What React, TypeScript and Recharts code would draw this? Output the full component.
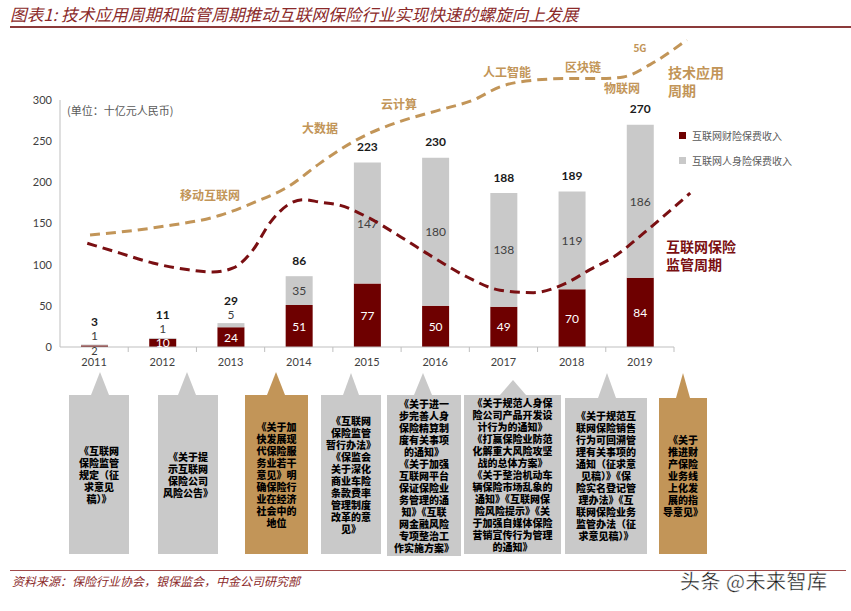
import React from 'react'
import { ComposedChart, Bar, XAxis, YAxis, LabelList, Legend, LineChart, Line } from 'recharts'

document.body.style.margin = '0'

const years = ['2011', '2012', '2013', '2014', '2015', '2016', '2017', '2018', '2019']
const propertyPremium = [2, 10, 24, 51, 77, 50, 49, 70, 84]
const lifePremium = [1, 1, 5, 35, 147, 180, 138, 119, 186]
const totalPremium = [3, 11, 29, 86, 223, 230, 188, 189, 270]
const yTicks = [0, 50, 100, 150, 200, 250, 300]

// dashed cycle curves, x in years, y in the same units as the bars
const techX = [2010.94, 2011.97, 2012.85, 2013.33, 2013.83, 2014.31, 2014.61, 2015.0, 2015.49, 2016.07, 2016.56, 2016.95, 2017.44, 2017.93, 2018.42, 2018.76, 2019.15, 2019.69]
const techY = [136, 146, 160, 175, 194, 223, 240, 258, 274, 288, 300, 316, 324, 326, 326, 328, 343, 373]
const regX = [2010.9, 2011.38, 2011.86, 2012.36, 2012.74, 2013.04, 2013.33, 2013.58, 2013.83, 2014.06, 2014.31, 2014.61, 2015.0, 2015.49, 2015.97, 2016.47, 2016.95, 2017.44, 2017.93, 2018.27, 2018.61, 2019.11, 2019.74]
const regY = [126, 114, 102, 94, 91, 96, 118, 151, 172, 179, 176, 172, 158, 134, 109, 85, 69, 66, 78, 94, 109, 142, 187]

const data = years.map((year, i) => ({
  year,
  property: propertyPremium[i],
  life: lifePremium[i],
  total: totalPremium[i],
}))
const techData = techX.map((x, i) => ({ x, y: techY[i] }))
const regData = regX.map((x, i) => ({ x, y: regY[i] }))

const TAN = '#C29558'
const RED = '#6E0000'
const REG_RED = '#7A0F12'
const GRAY = '#C9C9C9'
const NUM_FONT = 'Lato, "Open Sans", sans-serif'
const BAND_HALF = 614 / 9 / 2
const LEGEND_ORDER = ['property', 'life']

function YearTick({ x, y, payload }: any) {
  return (
    <g>
      <line x1={x + BAND_HALF} x2={x + BAND_HALF} y1={y - 8} y2={y - 3} stroke="#bfbfbf" />
      <text x={x} y={y} dy={11} textAnchor="middle" fontSize={11} fill="#404040" fontFamily={NUM_FONT}>
        {payload.value}
      </text>
    </g>
  )
}

function PropertyLabel({ x, y, width, height, value }: any) {
  const cx = Number(x) + Number(width) / 2
  if (value < 5) {
    return <text x={cx} y={Number(y) + Number(height) + 3} textAnchor="middle" dominantBaseline="central" fontSize={11} fill="#404040" fontFamily={NUM_FONT}>{value}</text>
  }
  return <text x={cx} y={Number(y) + Number(height) / 2} textAnchor="middle" dominantBaseline="central" fontSize={12} fill="#fff" fontFamily={NUM_FONT}>{value}</text>
}

function LifeLabel({ x, y, width, height, value }: any) {
  const cx = Number(x) + Number(width) / 2
  const cy = value < 10 ? Number(y) - 9 : Number(y) + Number(height) / 2
  return <text x={cx} y={cy} textAnchor="middle" dominantBaseline="central" fontSize={12} fill="#404040" fontFamily={NUM_FONT}>{value}</text>
}

function TotalLabel({ x, y, width, index, value }: any) {
  const small = lifePremium[index] < 10
  const cy = Number(y) - (small ? 23 : 16)
  return <text x={Number(x) + Number(width) / 2} y={cy} textAnchor="middle" dominantBaseline="central" fontSize={12} fontWeight={700} fill="#1a1a1a" fontFamily={NUM_FONT}>{value}</text>
}

function LegendBox({ payload }: any) {
  const items = [...(payload || [])].sort((a: any, b: any) => LEGEND_ORDER.indexOf(a.dataKey) - LEGEND_ORDER.indexOf(b.dataKey))
  return (
    <div>
      {items.map((item: any) => (
        <div key={item.value} style={{ display: 'flex', alignItems: 'center', height: 25, fontSize: 10, color: '#595959' }}>
          <span style={{ width: 7, height: 7, background: item.color, marginRight: 6, display: 'inline-block' }} />
          {item.value}
        </div>
      ))}
    </div>
  )
}

function Note({ x, y, text, size = 12, color = TAN, weight = 700 }: any) {
  return (
    <div style={{ position: 'absolute', left: x, top: y, transform: 'translate(-50%, -50%)', fontSize: size, color, fontWeight: weight, whiteSpace: 'nowrap', lineHeight: 1 }}>
      {text}
    </div>
  )
}

const callouts = [
  { left: 69, right: 129, top: 395, bottom: 554, tipX: 100, tipY: 372, half: 9, color: GRAY, lines: ['《互联网', '保险监管', '规定（征', '求意见', '稿）》'] },
  { left: 158, right: 218, top: 395, bottom: 554, tipX: 187, tipY: 372, half: 9, color: GRAY, lines: ['《关于提', '示互联网', '保险公司', '风险公告》'] },
  { left: 245, right: 308, top: 395, bottom: 554, tipX: 276, tipY: 372, half: 9, color: TAN, lines: ['《关于加', '快发展现', '代保险服', '务业若干', '意见》明', '确保险行', '业在经济', '社会中的', '地位'] },
  { left: 321, right: 381, top: 395, bottom: 554, tipX: 351, tipY: 373, half: 8, color: GRAY, lines: ['《互联网', '保险监管', '暂行办法》', '《保监会', '关于深化', '商业车险', '条款费率', '管理制度', '改革的意', '见》'] },
  { left: 387, right: 461, top: 395, bottom: 556, tipX: 423, tipY: 373, half: 9, color: GRAY, lines: ['《关于进一', '步完善人身', '保险精算制', '度有关事项', '的通知》', '《关于加强', '互联网平台', '保证保险业', '务管理的通', '知》《互联', '网金融风险', '专项整治工', '作实施方案》'] },
  { left: 464, right: 561, top: 395, bottom: 554, tipX: 513, tipY: 380, half: 13, color: GRAY, lines: ['《关于规范人身保', '险公司产品开发设', '计行为的通知》', '《打赢保险业防范', '化解重大风险攻坚', '战的总体方案》', '《关于整治机动车', '辆保险市场乱象的', '通知》《互联网保', '险风险提示》《关', '于加强自媒体保险', '营销宣传行为管理', '的通知》'] },
  { left: 565, right: 647, top: 398, bottom: 554, tipX: 607, tipY: 373, half: 9, color: GRAY, lines: ['《关于规范互', '联网保险销售', '行为可回溯管', '理有关事项的', '通知（征求意', '见稿）》《保', '险实名登记管', '理办法》《互', '联网保险业务', '监管办法（征', '求意见稿）》'] },
  { left: 659, right: 707, top: 398, bottom: 554, tipX: 683, tipY: 373, half: 7, color: TAN, lines: ['《关于', '推进财', '产保险', '业务线', '上化发', '展的指', '导意见》'] },
]

function Callout({ c }: any) {
  return (
    <>
      <div style={{ position: 'absolute', left: c.tipX - c.half, top: c.tipY, width: 0, height: 0, borderLeft: `${c.half}px solid transparent`, borderRight: `${c.half}px solid transparent`, borderBottom: `${c.top - c.tipY}px solid ${c.color}` }} />
      <div style={{ position: 'absolute', left: c.left, top: c.top, width: c.right - c.left, height: c.bottom - c.top, background: c.color, display: 'flex', justifyContent: 'center', alignItems: 'center' }}>
        <div style={{ fontSize: 10, fontWeight: 900, lineHeight: '12px', color: '#000', whiteSpace: 'pre', textAlign: 'center' }}>
          {c.lines.join('\n')}
        </div>
      </div>
    </>
  )
}

export default function App() {
  return (
    <div style={{ position: 'absolute', left: 0, top: 0, width: 851, height: 611, background: '#fff', overflow: 'hidden', fontFamily: '"Noto Sans CJK SC", sans-serif' }}>
      <div style={{ position: 'absolute', left: 10, top: 4, fontSize: 16.7, fontStyle: 'italic', color: '#8B2A2A', whiteSpace: 'nowrap', lineHeight: '20px' }}>
        图表1: 技术应用周期和监管周期推动互联网保险行业实现快速的螺旋向上发展
      </div>
      <div style={{ position: 'absolute', left: 10, top: 26, width: 841, height: 2, background: '#8B3A3A' }} />

      <div style={{ position: 'absolute', left: 0, top: 0 }}>
        <ComposedChart width={851} height={380} data={data} margin={{ top: 100, right: 177, bottom: 3, left: 0 }}>
          <XAxis dataKey="year" interval={0} tick={<YearTick />} tickLine={false} axisLine={{ stroke: '#bfbfbf' }} height={30} />
          <YAxis domain={[0, 300]} ticks={yTicks} width={60} tickLine={false} axisLine={{ stroke: '#bfbfbf' }} tick={{ fontSize: 11, fill: '#404040', fontFamily: NUM_FONT }} />
          <Legend layout="vertical" align="center" verticalAlign="middle" content={<LegendBox />} wrapperStyle={{ left: 679, top: 123, width: 160 }} />
          <Bar dataKey="property" name="互联网财险保费收入" stackId="a" fill={RED} barSize={27} isAnimationActive={false}>
            <LabelList dataKey="property" content={<PropertyLabel />} />
          </Bar>
          <Bar dataKey="life" name="互联网人身险保费收入" stackId="a" fill={GRAY} barSize={27} isAnimationActive={false}>
            <LabelList dataKey="life" content={<LifeLabel />} />
            <LabelList dataKey="total" content={<TotalLabel />} />
          </Bar>
        </ComposedChart>
      </div>

      <div style={{ position: 'absolute', left: 0, top: 0, pointerEvents: 'none' }}>
        <LineChart width={851} height={380} margin={{ top: 30, right: 143, bottom: 33, left: 60 }}>
          <XAxis type="number" dataKey="x" domain={[2010.5, 2020]} hide />
          <YAxis type="number" domain={[0, 385]} hide />
          <Line data={techData} dataKey="y" type="monotone" stroke={TAN} strokeWidth={3} strokeDasharray="10 6" dot={false} isAnimationActive={false} />
          <Line data={regData} dataKey="y" type="monotone" stroke={REG_RED} strokeWidth={3} strokeDasharray="10 6" dot={false} isAnimationActive={false} />
        </LineChart>
      </div>

      <div style={{ position: 'absolute', left: 67, top: 102, fontSize: 11, color: '#595959', whiteSpace: 'nowrap' }}>(单位：十亿元人民币)</div>

      <Note x={210} y={195} text="移动互联网" />
      <Note x={320} y={128} text="大数据" />
      <Note x={399} y={104} text="云计算" />
      <Note x={507} y={72} text="人工智能" />
      <Note x={583} y={67} text="区块链" />
      <Note x={622} y={88} text="物联网" />
      <Note x={640} y={48} text="5G" size={10} />
      <div style={{ position: 'absolute', left: 668, top: 63, fontSize: 14, fontWeight: 700, color: TAN, lineHeight: '18px', whiteSpace: 'pre' }}>
        {'技术应用\n周期'}
      </div>
      <div style={{ position: 'absolute', left: 666, top: 237, fontSize: 14, fontWeight: 700, color: REG_RED, lineHeight: '18px', whiteSpace: 'pre' }}>
        {'互联网保险\n监管周期'}
      </div>

      {callouts.map((c, i) => <Callout key={i} c={c} />)}

      <div style={{ position: 'absolute', left: 10, top: 570, width: 836, height: 1, background: '#A04A4A' }} />
      <div style={{ position: 'absolute', left: 12, top: 572, fontSize: 12, fontStyle: 'italic', color: '#8B2A2A', whiteSpace: 'nowrap' }}>
        资料来源：保险行业协会，银保监会，中金公司研究部
      </div>
      <div style={{ position: 'absolute', left: 680, top: 566, fontSize: 20, color: '#111', whiteSpace: 'nowrap', WebkitTextStroke: '0.4px #fff', letterSpacing: 0.5 }}>
        头条 @未来智库
      </div>
    </div>
  )
}
